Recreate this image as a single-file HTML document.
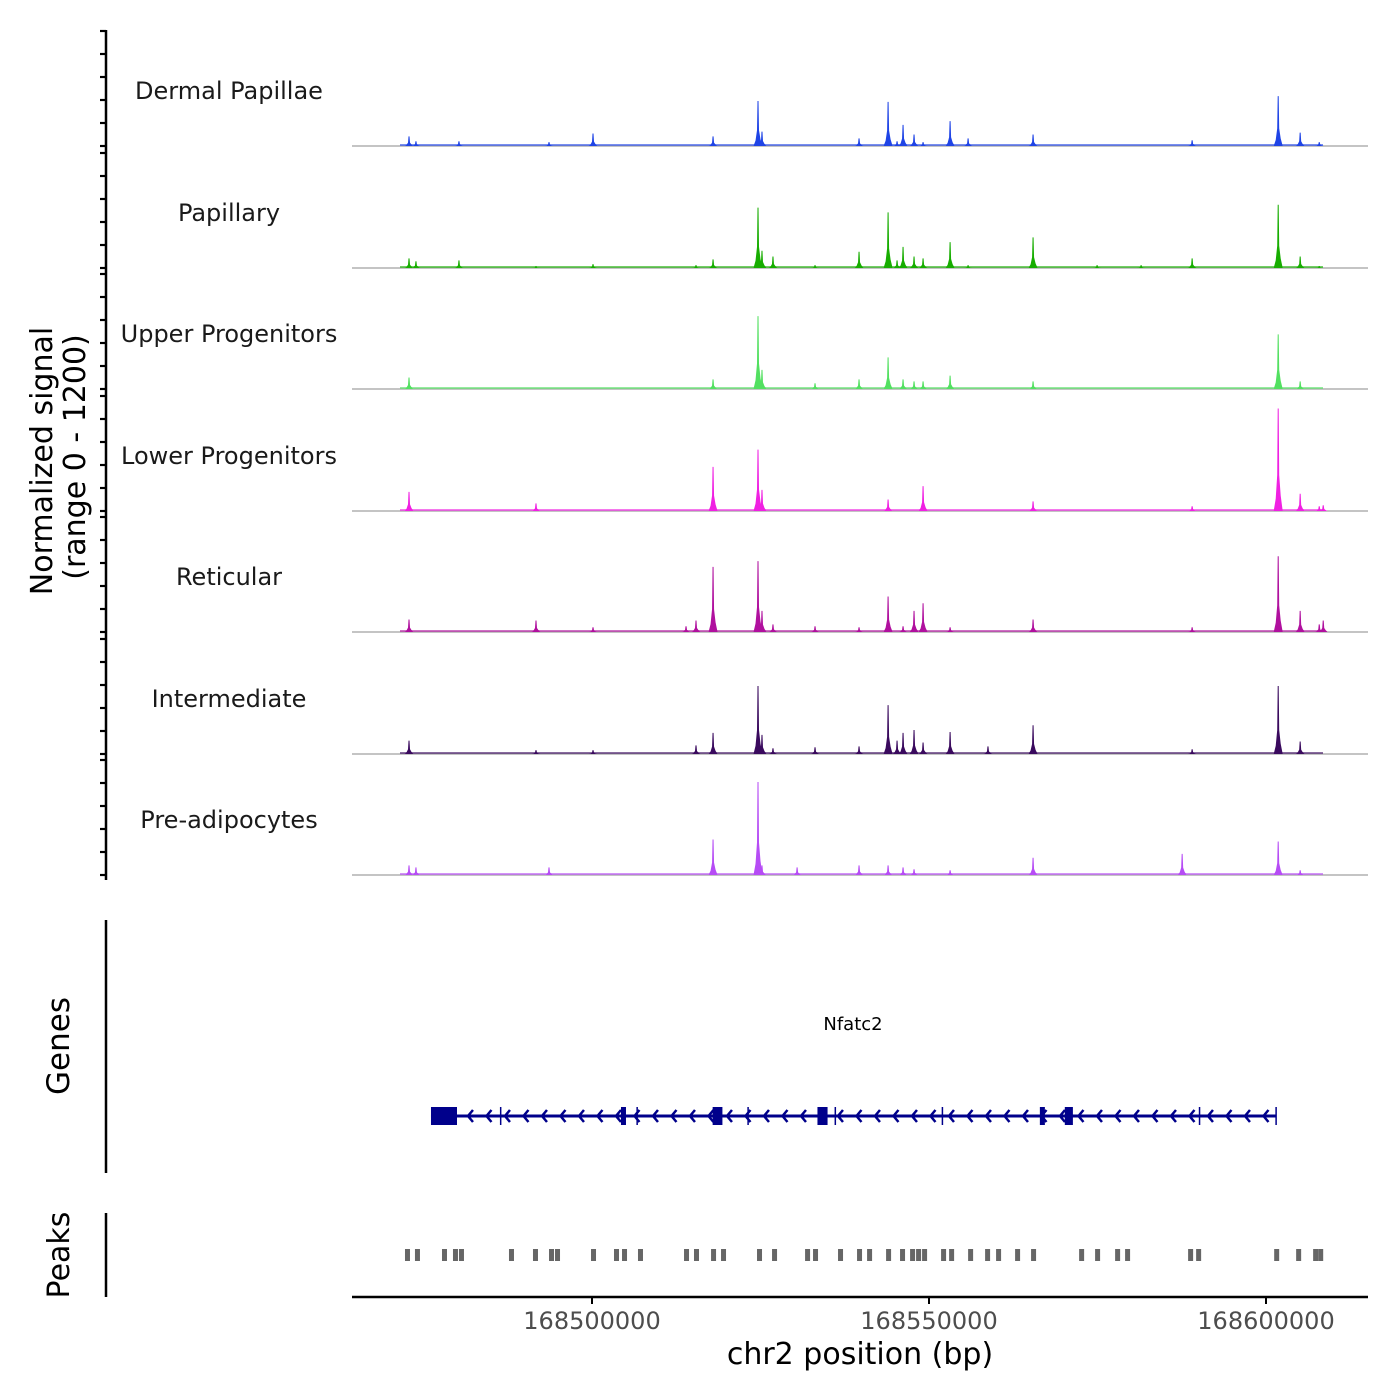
<!DOCTYPE html>
<html><head><meta charset="utf-8">
<style>
html,body{margin:0;padding:0;background:#fff;}
svg{display:block;font-family:"DejaVu Sans","Liberation Sans",sans-serif;}
</style></head>
<body>
<svg id="chart" width="1400" height="1400" viewBox="0 0 1400 1400" xmlns="http://www.w3.org/2000/svg">
<g id="tracks"></g>
<line x1="106" y1="30" x2="106" y2="880" stroke="#000" stroke-width="2.5"/>
<g id="yticks"></g>
<g font-size="30" fill="#000" text-anchor="middle">
<text transform="translate(52,461) rotate(-90)">Normalized signal</text>
<text transform="translate(85,457) rotate(-90)">(range 0 - 1200)</text>
</g>
<line x1="106" y1="920" x2="106" y2="1173" stroke="#000" stroke-width="2.5"/>
<text transform="translate(69,1046) rotate(-90)" font-size="31" text-anchor="middle">Genes</text>
<text x="853" y="1030" font-size="18" text-anchor="middle">Nfatc2</text>
<g id="gene"></g>
<line x1="106" y1="1213" x2="106" y2="1297" stroke="#000" stroke-width="2.5"/>
<text transform="translate(69,1255) rotate(-90)" font-size="30" text-anchor="middle">Peaks</text>
<g id="peaks"></g>
<line x1="352" y1="1297" x2="1368" y2="1297" stroke="#000" stroke-width="2.5"/>
<g id="xticks"></g>
<text x="860" y="1364" font-size="30" text-anchor="middle">chr2 position (bp)</text>
</svg>
<script>
const xTicks = [168500000, 168550000, 168600000];
const trackNames = ["Dermal Papillae","Papillary","Upper Progenitors","Lower Progenitors","Reticular","Intermediate","Pre-adipocytes"];
const trackColors = ["#1f44e6","#17ad00","#52e060","#f020e2","#b0109e","#3a0a5e","#b64cf5"];
const dpPos = [168472850,168473880,168480260,168493620,168500150,168517960,168524630,168525220,168539620,168543930,168545260,168546150,168547780,168549120,168553130,168555800,168565440,168589040,168601810,168605070,168607900];
const dpVal = [100,50,50,40,130,100,470,150,80,460,50,220,120,40,260,80,120,60,520,140,40];
const papPos = [168472850,168473880,168480260,168491690,168500150,168515430,168517960,168524630,168525220,168526850,168533090,168539620,168543930,168545260,168546150,168547780,168549120,168553130,168555800,168565440,168574940,168581470,168589040,168601810,168605070,168607900];
const papVal = [100,70,80,20,40,30,90,630,180,120,30,170,580,80,220,120,100,270,30,320,30,30,100,660,120,20];
const upPos = [168472850,168517960,168524630,168525220,168533090,168539620,168543930,168546150,168547780,168549120,168553130,168565440,168601810,168605070];
const upVal = [120,100,760,200,60,100,330,100,80,80,140,80,570,80];
const lpPos = [168472850,168491690,168517960,168524630,168525220,168543930,168549120,168565440,168589040,168601810,168605070,168607900,168608490];
const lpVal = [200,80,460,640,220,120,260,100,50,1070,180,50,60];
const retPos = [168472850,168491690,168500150,168513950,168515430,168517960,168524630,168525220,168526850,168533090,168539620,168543930,168546150,168547780,168549120,168553130,168565440,168589040,168601810,168605070,168607900,168608490];
const retVal = [130,120,50,60,120,680,740,220,80,60,50,370,60,220,300,50,130,50,790,220,80,120];
const intPos = [168472850,168491690,168500150,168515430,168517960,168524630,168525220,168526850,168533090,168539620,168543930,168545260,168546150,168547780,168549120,168553130,168558750,168565440,168589040,168601810,168605070];
const intVal = [140,40,40,90,220,710,200,60,70,80,510,140,220,250,120,230,80,300,50,710,130];
const preaPos = [168472850,168473880,168493620,168517960,168524630,168525220,168530430,168539620,168543930,168546150,168547780,168553130,168565440,168587560,168601810,168605070];
const preaVal = [100,80,80,370,970,100,80,100,100,80,60,50,180,220,350,50];
const trackPos = [dpPos,papPos,upPos,lpPos,retPos,intPos,preaPos];
const trackVal = [dpVal,papVal,upVal,lpVal,retVal,intVal,preaVal];
const geneStart = 168476110, geneEnd = 168601500;
const exonStart = [168476110,168504300,168517900,168533450,168566450,168570150];
const exonEnd   = [168479970,168505000,168519350,168534950,168567150,168571350];
const intronMarks = [168486450,168506700,168523160,168536100,168551990,168590140];
const peakStarts = [168472550,168474030,168478040,168479670,168480560,168487980,168491540,168493920,168494810,168500150,168503560,168504750,168507120,168513950,168515430,168517960,168519440,168524780,168527010,168531910,168533090,168536800,168539620,168541110,168543930,168546000,168547490,168548380,168549270,168552090,168553280,168556100,168558620,168560250,168563070,168565440,168572570,168574940,168577910,168579390,168588740,168589930,168601510,168604770,168607290,168608040];

const NS="http://www.w3.org/2000/svg";
function X(bp){return 592 + (bp-168500000)*337/50000;}
const baselines=[146,268,389,511,632,754,875];
function Y(v,b){return b - v*115/1200;}
function mk(tag,attrs,parent){const e=document.createElementNS(NS,tag);for(const k in attrs)e.setAttribute(k,attrs[k]);parent.appendChild(e);return e;}

const tracksG=document.getElementById('tracks');
for(let t=0;t<7;t++){
  const b=baselines[t], col=trackColors[t];
  const g=mk('g',{},tracksG);
  
  
  const lab=mk('text',{x:229,y:b-47,'font-size':24,'text-anchor':'middle',fill:'#1a1a1a'},g);
  lab.textContent=trackNames[t];
  
  
  const bl=mk('line',{x1:352,x2:1368,y1:b,y2:b,stroke:'#888','stroke-width':1},g);
  
  
  const noise=mk('line',{x1:400,x2:1323,y1:b-1,y2:b-1,stroke:col,'stroke-width':2,opacity:0.6},g);
  
  
  const P=trackPos[t],V=trackVal[t];
  for(let i=0;i<P.length;i++){
    const x=X(P[i]),top=Y(V[i],b),h=b-top;
    const d=`M${x-4.5},${b} L${x-2.5},${b-h*0.12} L${x-1},${b-h*0.35} L${x-0.5},${top} L${x+0.5},${top} L${x+1},${b-h*0.35} L${x+2.5},${b-h*0.15} L${x+4.5},${b} Z`;
    const p=mk('path',{d:d,fill:col},g);
    
    
  }
}
const yt=document.getElementById('yticks');
for(let t=0;t<7;t++){
  const b=baselines[t];
  for(let k=0;k<=5;k++){
    const y=b-k*23;
    const l=mk('line',{x1:100,x2:106,y1:y,y2:y,stroke:'#000','stroke-width':2.2},yt);
    
    
  }
}
const gg=document.getElementById('gene'), gy=1116, gc='#00008b';
const gl=mk('line',{x1:X(geneStart),x2:X(geneEnd),y1:gy,y2:gy,stroke:gc,'stroke-width':3},gg);


for(let i=0;i<exonStart.length;i++){
  const r=mk('rect',{x:X(exonStart[i]),y:gy-9,width:Math.max(5,X(exonEnd[i])-X(exonStart[i])),height:18,fill:gc},gg);
  
  
}
for(const m of intronMarks.concat([geneEnd])){
  const l=mk('line',{x1:X(m),x2:X(m),y1:gy-9,y2:gy+9,stroke:gc,'stroke-width':1.5},gg);
  
  
}
for(let x=X(geneStart)+37;x<X(geneEnd)-5;x+=18.5){
  const a=mk('path',{d:`M${x+5},${gy-6} L${x},${gy} L${x+5},${gy+6}`,fill:'none',stroke:gc,'stroke-width':2.5},gg);
  
  
}
const pg=document.getElementById('peaks');
for(const s of peakStarts){
  const r=mk('rect',{x:X(s)-2,y:1249,width:5,height:12,fill:'#666'},pg);
  
  
}
const xg=document.getElementById('xticks');
for(const v of xTicks){
  const x=X(v);
  const l=mk('line',{x1:x,x2:x,y1:1297,y2:1304,stroke:'#000','stroke-width':2},xg);
  
  
  const tx=mk('text',{x:x,y:1329,'font-size':24,'text-anchor':'middle',fill:'#4d4d4d'},xg);
  tx.textContent=String(v);
  
  
}
</script>
</body></html>
